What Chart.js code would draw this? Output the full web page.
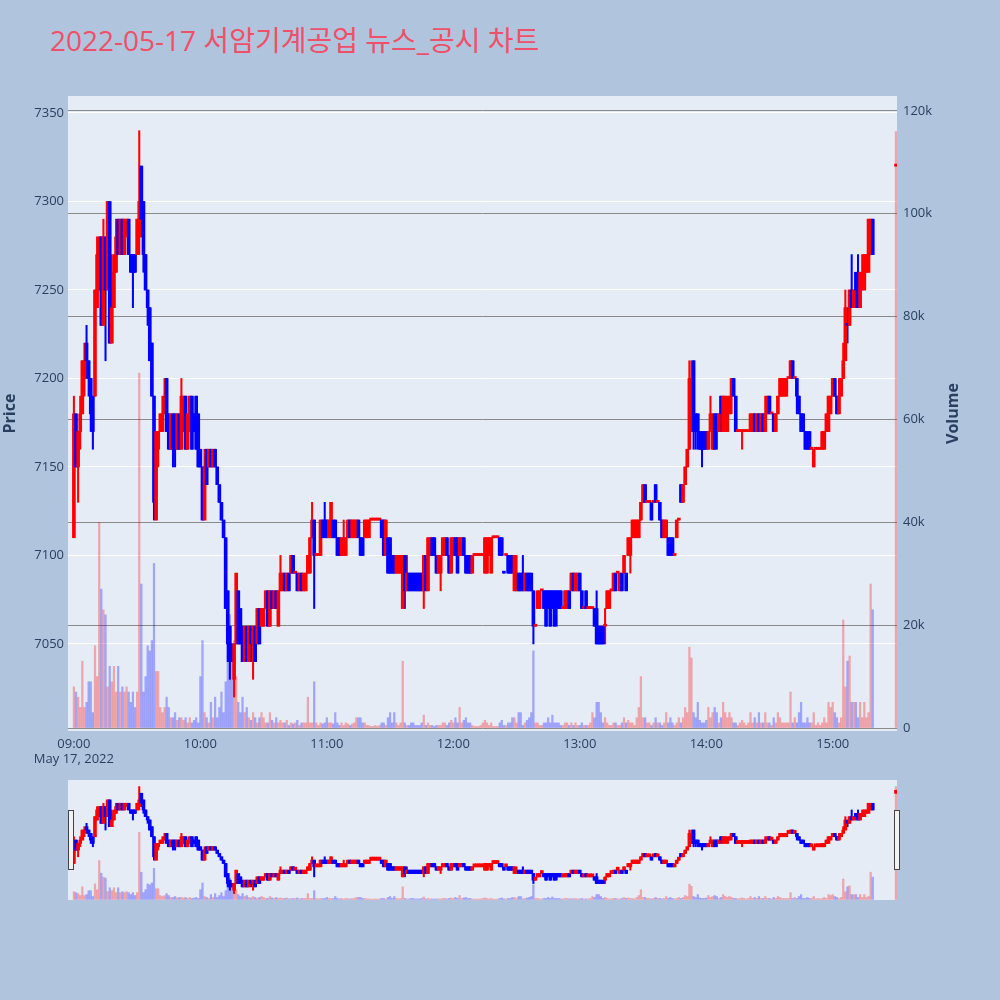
<!DOCTYPE html>
<html>
<head>
<meta charset="utf-8">
<script src="https://cdn.jsdelivr.net/npm/chart.js@4.4.0/dist/chart.umd.min.js"></script>
<style>
  body { margin: 0; width: 1000px; height: 1000px; overflow: hidden; position: relative; background: #b0c4de;
         font-family: "Open Sans", "Noto Sans CJK KR", sans-serif; }
  #title { position: absolute; left: 50px; top: 21px; font-size: 28px; line-height: 38px; color: #ef5068; white-space: nowrap; }
  #main { position: absolute; left: 0; top: 0; }
  #mini { position: absolute; left: 0; top: 770px; }
</style>
</head>
<body>
<div id="title">2022-05-17 서암기계공업 뉴스_공시 차트</div>
<canvas id="main" width="965" height="775"></canvas>
<canvas id="mini" width="965" height="140"></canvas>
<script>
// 1-minute candles from 09:00, the last one is the 15:30 closing auction
const open = [
  7110,7180,7150,7170,7180,7200,7220,7210,7200,7190, 7190,7240,7250,7280,7230,7280,7250,7300,7220,7240,
  7260,7290,7270,7290,7270,7280,7290,7270,7270,7270, 7270,7280,7320,7300,7270,7250,7240,7220,7190,7120,
  7160,7170,7170,7180,7200,7180,7160,7180,7180,7160, 7180,7160,7170,7190,7160,7170,7190,7180,7190,7180,
  7160,7150,7120,7160,7150,7160,7150,7160,7150,7140, 7130,7120,7110,7080,7060,7050,7030,7050,7080,7070,
  7060,7040,7060,7040,7060,7050,7060,7050,7070,7060, 7060,7070,7080,7060,7080,7070,7080,7060,7080,7080,
  7090,7080,7090,7090,7100,7090,7090,7080,7090,7080, 7080,7090,7090,7110,7120,7100,7100,7100,7120,7120,
  7120,7110,7110,7120,7120,7110,7110,7100,7100,7100, 7110,7120,7110,7110,7110,7120,7110,7110,7110,7110,
  7110,7120,7120,7120,7120,7120,7120,7120,7100,7110, 7110,7100,7100,7090,7090,7090,7070,7100,7080,7090,
  7090,7090,7090,7090,7090,7090,7080,7100,7080,7100, 7110,7110,7100,7090,7090,7100,7100,7110,7100,7090,
  7100,7110,7110,7100,7100,7110,7100,7100,7100,7090, 7100,7100,7100,7100,7100,7090,7090,7100,7090,7110,
  7110,7110,7110,7110,7090,7100,7100,7100,7100,7080, 7080,7090,7090,7090,7080,7090,7090,7090,7080,7060,
  7070,7070,7080,7080,7080,7080,7080,7080,7080,7080, 7080,7080,7070,7070,7070,7080,7080,7090,7080,7080,
  7090,7080,7070,7080,7070,7070,7070,7070,7070,7060, 7060,7060,7060,7070,7070,7080,7080,7090,7090,7080,
  7090,7090,7090,7100,7100,7110,7110,7110,7110,7120, 7130,7140,7130,7130,7130,7130,7140,7130,7130,7120,
  7110,7110,7110,7110,7110,7100,7110,7120,7140,7130, 7140,7150,7160,7170,7210,7180,7180,7170,7170,7170,
  7170,7160,7170,7160,7180,7180,7170,7190,7170,7180, 7170,7180,7190,7200,7190,7170,7170,7170,7170,7170,
  7170,7170,7170,7180,7170,7180,7170,7180,7170,7180, 7190,7180,7180,7170,7180,7190,7190,7190,7190,7200,
  7200,7210,7200,7200,7190,7180,7180,7170,7170,7170, 7160,7150,7160,7160,7160,7160,7160,7170,7170,7180,
  7190,7200,7190,7180,7190,7200,7210,7230,7230,7250, 7240,7260,7260,7240,7250,7250,7260,7260,7270,7290,
  7320
];
const high = [
  7190,7180,7170,7190,7210,7220,7230,7210,7200,7190, 7250,7280,7280,7280,7290,7280,7300,7300,7270,7270,
  7290,7290,7290,7290,7290,7290,7290,7270,7270,7270, 7290,7340,7320,7300,7270,7250,7240,7220,7190,7170,
  7170,7180,7190,7200,7200,7180,7180,7180,7180,7180, 7180,7200,7190,7190,7180,7190,7190,7180,7190,7180,
  7160,7150,7160,7160,7160,7160,7160,7160,7150,7140, 7130,7120,7110,7080,7060,7050,7050,7090,7080,7070,
  7060,7060,7060,7060,7060,7060,7060,7070,7070,7070, 7070,7080,7080,7080,7080,7080,7080,7080,7100,7090,
  7090,7090,7090,7100,7100,7090,7090,7090,7090,7090, 7090,7100,7110,7130,7120,7100,7100,7120,7120,7130,
  7120,7120,7130,7120,7120,7110,7110,7110,7120,7110, 7120,7120,7120,7120,7120,7120,7110,7110,7120,7120,
  7120,7120,7120,7120,7120,7120,7120,7120,7120,7110, 7110,7100,7100,7100,7100,7100,7100,7100,7100,7090,
  7090,7090,7090,7090,7090,7090,7100,7100,7110,7110, 7110,7110,7100,7100,7100,7110,7110,7110,7100,7110,
  7110,7110,7110,7110,7110,7110,7100,7100,7100,7100, 7100,7100,7100,7100,7100,7110,7110,7110,7110,7110,
  7110,7110,7110,7110,7090,7100,7100,7100,7100,7100, 7100,7090,7090,7100,7090,7090,7090,7090,7080,7060,
  7080,7080,7080,7080,7080,7080,7080,7080,7080,7080, 7080,7080,7070,7080,7080,7080,7090,7090,7090,7090,
  7090,7080,7070,7080,7070,7070,7070,7070,7080,7060, 7060,7060,7070,7080,7080,7080,7090,7090,7090,7090,
  7090,7100,7090,7110,7110,7120,7120,7120,7120,7130, 7140,7140,7130,7130,7130,7130,7140,7130,7130,7120,
  7120,7120,7110,7110,7110,7100,7120,7120,7140,7140, 7150,7160,7210,7210,7210,7180,7180,7170,7170,7170,
  7170,7170,7190,7180,7180,7180,7180,7190,7190,7190, 7190,7190,7200,7200,7190,7170,7170,7170,7170,7170,
  7170,7180,7180,7180,7180,7180,7180,7180,7190,7190, 7190,7180,7180,7180,7190,7200,7200,7200,7200,7200,
  7210,7210,7200,7200,7190,7180,7180,7170,7170,7170, 7160,7160,7160,7160,7160,7170,7170,7180,7190,7190,
  7200,7200,7190,7200,7200,7220,7250,7240,7250,7270, 7250,7260,7270,7260,7270,7270,7270,7290,7290,7290,
  7320
];
const low = [
  7110,7150,7130,7160,7180,7190,7200,7190,7170,7160, 7190,7240,7250,7230,7230,7210,7250,7220,7220,7240,
  7260,7270,7270,7270,7270,7280,7270,7260,7240,7260, 7270,7270,7280,7260,7250,7230,7210,7190,7120,7120,
  7150,7170,7170,7180,7170,7160,7160,7150,7150,7160, 7160,7160,7170,7160,7160,7170,7160,7170,7160,7150,
  7150,7120,7120,7140,7150,7150,7150,7150,7140,7130, 7120,7110,7070,7040,7030,7040,7020,7050,7050,7050,
  7040,7040,7040,7040,7040,7030,7040,7050,7050,7060, 7060,7070,7060,7060,7070,7070,7070,7060,7080,7080,
  7080,7080,7080,7090,7090,7090,7080,7080,7080,7080, 7080,7090,7090,7110,7070,7100,7100,7100,7110,7110,
  7110,7110,7110,7110,7110,7100,7100,7100,7100,7100, 7110,7110,7110,7110,7110,7110,7100,7100,7110,7110,
  7110,7120,7120,7120,7120,7120,7110,7100,7100,7090, 7090,7090,7090,7090,7090,7090,7070,7070,7080,7080,
  7080,7080,7080,7080,7080,7080,7070,7080,7080,7100, 7100,7100,7090,7090,7080,7100,7100,7100,7090,7090,
  7100,7100,7090,7100,7100,7100,7090,7090,7090,7090, 7100,7100,7100,7100,7100,7090,7090,7100,7090,7110,
  7110,7110,7100,7100,7090,7100,7090,7090,7090,7080, 7080,7080,7080,7080,7080,7080,7080,7080,7050,7060,
  7070,7070,7080,7070,7060,7070,7060,7070,7060,7060, 7070,7070,7070,7070,7070,7070,7080,7080,7080,7080,
  7080,7070,7070,7070,7070,7070,7070,7060,7050,7050, 7050,7050,7050,7070,7070,7080,7080,7080,7090,7080,
  7080,7090,7080,7100,7090,7110,7110,7110,7110,7120, 7130,7130,7130,7130,7120,7130,7130,7130,7120,7110,
  7110,7110,7100,7100,7100,7100,7110,7120,7130,7130, 7140,7150,7160,7170,7160,7160,7160,7160,7150,7160,
  7160,7160,7170,7160,7160,7160,7170,7170,7170,7170, 7170,7180,7180,7190,7170,7170,7170,7160,7170,7170,
  7170,7170,7170,7170,7170,7170,7170,7170,7170,7180, 7180,7180,7170,7170,7180,7190,7190,7190,7190,7200,
  7200,7200,7200,7180,7180,7170,7170,7160,7160,7160, 7160,7150,7160,7160,7160,7160,7160,7170,7170,7180,
  7190,7190,7180,7180,7190,7200,7210,7220,7230,7240, 7240,7240,7240,7240,7250,7250,7260,7260,7270,7270,
  7320
];
const close = [
  7180,7150,7170,7180,7210,7210,7210,7200,7180,7170, 7250,7270,7280,7230,7280,7250,7300,7220,7240,7260,
  7280,7270,7290,7270,7290,7290,7270,7260,7260,7260, 7290,7300,7290,7270,7250,7240,7210,7190,7130,7170,
  7170,7180,7180,7190,7170,7160,7180,7160,7160,7180, 7160,7190,7190,7160,7180,7190,7160,7170,7160,7150,
  7150,7120,7150,7140,7160,7150,7160,7150,7140,7130, 7120,7110,7070,7050,7040,7040,7050,7090,7050,7050,
  7040,7060,7040,7060,7050,7060,7040,7070,7050,7070, 7070,7080,7060,7080,7070,7080,7070,7080,7090,7090,
  7080,7090,7080,7100,7090,7090,7080,7090,7080,7090, 7090,7100,7110,7120,7100,7100,7100,7120,7110,7110,
  7110,7120,7130,7110,7110,7100,7100,7110,7110,7110, 7120,7110,7120,7120,7120,7110,7100,7100,7120,7120,
  7120,7120,7120,7120,7120,7120,7110,7100,7120,7090, 7090,7090,7090,7100,7100,7100,7100,7080,7090,7080,
  7080,7080,7080,7080,7080,7080,7100,7080,7110,7110, 7100,7100,7090,7100,7100,7110,7110,7100,7090,7110,
  7110,7100,7090,7110,7110,7100,7090,7090,7090,7100, 7100,7100,7100,7100,7100,7110,7110,7110,7110,7110,
  7110,7110,7100,7100,7090,7100,7090,7090,7090,7100, 7090,7080,7080,7080,7090,7080,7080,7080,7060,7060,
  7080,7080,7080,7070,7060,7070,7060,7070,7060,7070, 7070,7070,7070,7080,7080,7070,7090,7080,7090,7090,
  7080,7070,7070,7070,7070,7070,7070,7060,7050,7050, 7050,7050,7060,7080,7080,7080,7090,7080,7090,7090,
  7080,7100,7080,7110,7110,7120,7120,7120,7120,7130, 7140,7130,7130,7130,7120,7130,7130,7130,7120,7110,
  7120,7120,7100,7100,7100,7100,7120,7120,7130,7140, 7150,7160,7200,7200,7170,7170,7170,7160,7160,7160,
  7160,7170,7180,7180,7160,7170,7180,7180,7190,7190, 7180,7190,7200,7190,7170,7170,7170,7170,7170,7170,
  7170,7180,7180,7170,7180,7170,7180,7170,7180,7190, 7180,7180,7170,7180,7190,7200,7200,7200,7200,7200,
  7210,7200,7200,7190,7180,7170,7170,7160,7160,7160, 7160,7160,7160,7160,7160,7170,7170,7180,7190,7190,
  7200,7190,7180,7190,7200,7210,7240,7230,7250,7240, 7250,7250,7240,7260,7260,7270,7270,7290,7290,7270,
  7320
];
const volume = [
  8000,7000,6000,4000,13000,4000,5000,9000,9000,3000, 16000,10000,40000,27000,23000,22000,8000,12000,9000,12000,
  7000,12000,7000,8000,7000,8000,7000,5000,7000,4000, 7000,69000,28000,7000,10000,16000,15000,17000,32000,11000,
  11000,4000,3000,4000,6000,4000,2000,2000,3000,1500, 2000,2000,1500,2000,1000,2000,1000,1500,2000,1000,
  10000,17000,3000,2000,1000,5000,2000,6000,2000,4000, 7000,3000,9000,20000,22000,14000,17000,10000,5000,3000,
  6000,3000,4000,2000,1500,3000,2000,1000,2000,3000, 2000,1000,1000,3000,1500,1000,2000,1000,1500,1000,
  1000,1500,500,1000,800,1000,1500,500,1000,1000, 1000,6000,1000,1000,9000,1000,500,1000,800,1000,
  2000,1000,1000,800,3000,1000,500,1000,500,1000, 800,500,800,1000,2000,2000,2000,1000,1000,500,
  500,300,300,500,300,500,1000,1000,500,2000, 3000,1000,3000,1000,500,1000,13000,1000,500,500,
  1000,1000,500,500,500,1000,2500,500,1000,500, 500,300,500,500,500,1000,1000,500,1000,1500,
  1000,2000,1000,4000,1000,1500,2000,1000,1000,500, 300,300,300,500,1000,1500,1000,500,1000,300,
  300,300,1000,1500,500,500,1000,1000,2000,2000, 1000,3000,3000,500,1000,1500,2000,3000,15000,1000,
  1000,500,500,1000,1000,2000,1000,2500,1000,1000, 1000,500,500,1000,1000,500,1000,500,1000,500,
  500,1000,500,500,500,1000,3000,2000,5000,5000, 3000,1000,2000,1000,500,500,1000,1000,500,500,
  1000,2000,1000,1500,1000,1000,500,2000,4000,10000, 2000,2000,1000,1000,500,1000,2000,1000,1000,500,
  1000,3000,1000,2000,1000,500,1000,2000,1000,2000, 4000,3000,15700,13600,3000,2000,5000,1500,1000,1000,
  1500,4000,2000,3000,4000,3000,1000,2000,5000,3000, 2000,3000,2000,1000,1000,500,1000,1500,1000,500,
  1000,3000,1000,2000,1000,3000,1000,1000,3000,1000, 1000,500,2000,1000,3000,2000,1000,1000,1000,1000,
  7000,1000,2000,1000,3000,5000,1000,1000,2000,1000, 1000,3000,500,1000,500,1000,2000,1000,5000,4000,
  5000,3000,2000,1000,2000,21000,8000,13000,14000,5000, 5000,5000,2000,5000,2000,5000,2000,3000,28000,23000,
  116000
];
// minutes after 09:00; the closing auction candle sits at 15:30
const minute = open.map((_, i) => (i < open.length - 1 ? i : 390));
const hourTicks = [0, 60, 120, 180, 240, 300, 360];
const hourLabels = ['09:00', '10:00', '11:00', '12:00', '13:00', '14:00', '15:00'];
const dateLabel = 'May 17, 2022';
const priceTicks = [7050, 7100, 7150, 7200, 7250, 7300, 7350];
const volumeTicks = [0, 20000, 40000, 60000, 80000, 100000, 120000];

const X_MIN = -2.8, X_MAX = 390.5;
const P_MIN = 7000.8, P_MAX = 7359.6;
const V_MIN = -580, V_MAX = 122900;
const TICK_COLOR = '#2a3f5f';

// red when close is up, blue when down; flat candles follow the previous close
const candleColor = close.map((c, i) => {
  if (c > open[i]) return '#ff0000';
  if (c < open[i]) return '#0000ff';
  return i > 0 && c < close[i - 1] ? '#0000ff' : '#ff0000';
});
const volColor = candleColor.map(c => c === '#ff0000' ? 'rgba(255,0,0,0.3)' : 'rgba(0,0,255,0.3)');

const plotBg = {
  id: 'plotBg',
  beforeDraw(chart) {
    const { ctx, chartArea: a } = chart;
    ctx.save();
    ctx.fillStyle = '#e5ecf6';
    ctx.fillRect(a.left, a.top, a.right - a.left, a.bottom - a.top);
    ctx.restore();
  }
};

// right axis title reads bottom-to-top like the left one
const volumeTitle = {
  id: 'volumeTitle',
  afterDraw(chart) {
    const { ctx, chartArea: a } = chart;
    ctx.save();
    ctx.translate(953, (a.top + a.bottom) / 2);
    ctx.rotate(-Math.PI / 2);
    ctx.font = 'bold 16px "Open Sans", sans-serif';
    ctx.fillStyle = TICK_COLOR;
    ctx.textAlign = 'center';
    ctx.textBaseline = 'middle';
    ctx.fillText('Volume', 0, 0);
    ctx.restore();
  }
};

const grabbers = {
  id: 'grabbers',
  afterDraw(chart) {
    const { ctx, chartArea: a } = chart;
    ctx.save();
    ctx.fillStyle = '#f2f2f2';
    ctx.strokeStyle = '#444';
    ctx.lineWidth = 1;
    [a.left + 0.5, a.right - 2.5].forEach(x => {
      ctx.fillRect(x, a.top + 30.5, 5, 59);
      ctx.strokeRect(x, a.top + 30.5, 5, 59);
    });
    ctx.restore();
  }
};

const makeSets = (wickW, bodyW, bodyMin, volW) => [
  {
    label: 'Volume', yAxisID: 'y2',
    data: minute.map((m, i) => ({ x: m, y: volume[i] })),
    backgroundColor: volColor, barThickness: volW, grouped: false, order: 3
  },
  {
    label: 'wick', yAxisID: 'y',
    data: minute.map((m, i) => ({ x: m, y: [low[i], high[i]] })),
    backgroundColor: candleColor, barThickness: wickW, grouped: false, order: 2
  },
  {
    label: 'body', yAxisID: 'y',
    data: minute.map((m, i) => ({ x: m, y: [open[i], close[i]] })),
    backgroundColor: candleColor, barThickness: bodyW, minBarLength: bodyMin, grouped: false, order: 1
  }
];

Chart.defaults.font.family = '"Open Sans", "Noto Sans CJK KR", sans-serif';
Chart.defaults.font.size = 13;

new Chart(document.getElementById('main'), {
  type: 'bar',
  data: { datasets: makeSets(1.4, 3, 2, 1.6) },
  plugins: [plotBg, volumeTitle],
  options: {
    responsive: false,
    animation: false,
    events: [],
    layout: { padding: { top: 96, left: 0, right: 0, bottom: 0 } },
    plugins: { legend: { display: false }, tooltip: { enabled: false } },
    scales: {
      x: {
        type: 'linear', min: X_MIN, max: X_MAX, offset: false,
        grid: { display: false }, border: { display: false },
        afterBuildTicks: s => { s.ticks = hourTicks.map(v => ({ value: v })); },
        afterFit: s => { s.height = 44; },
        ticks: {
          autoSkip: false, maxRotation: 0, padding: -3, color: TICK_COLOR,
          callback: (v, i) => (i === 0 ? [hourLabels[0], dateLabel] : hourLabels[i])
        }
      },
      y: {
        position: 'left', min: P_MIN, max: P_MAX,
        grid: { color: '#ffffff', lineWidth: 1, drawTicks: false }, border: { display: false },
        afterBuildTicks: s => { s.ticks = priceTicks.map(v => ({ value: v })); },
        afterFit: s => { s.width = 68; },
        ticks: { padding: 4, color: TICK_COLOR, callback: v => String(v) },
        title: { display: true, text: 'Price', color: TICK_COLOR, font: { size: 16, weight: 'bold' }, padding: { top: 1, bottom: 0 } }
      },
      y2: {
        position: 'right', min: V_MIN, max: V_MAX,
        grid: { color: '#8a8a8a', lineWidth: 1, drawTicks: false }, border: { display: false },
        afterBuildTicks: s => { s.ticks = volumeTicks.map(v => ({ value: v })); },
        afterFit: s => { s.width = 68; },
        ticks: { padding: 6, color: TICK_COLOR, callback: v => (v === 0 ? '0' : v / 1000 + 'k') }
      }
    }
  }
});

// range slider below the main plot
new Chart(document.getElementById('mini'), {
  type: 'bar',
  data: { datasets: makeSets(1.4, 3, 3, 1.6) },
  plugins: [plotBg, grabbers],
  options: {
    responsive: false,
    animation: false,
    events: [],
    layout: { padding: { top: 10, left: 68, right: 68, bottom: 10 } },
    plugins: { legend: { display: false }, tooltip: { enabled: false } },
    scales: {
      x: { type: 'linear', min: X_MIN, max: X_MAX, offset: false, display: false },
      y: { min: P_MIN, max: P_MAX, display: false },
      y2: { min: V_MIN, max: V_MAX, display: false }
    }
  }
});
</script>
</body>
</html>
